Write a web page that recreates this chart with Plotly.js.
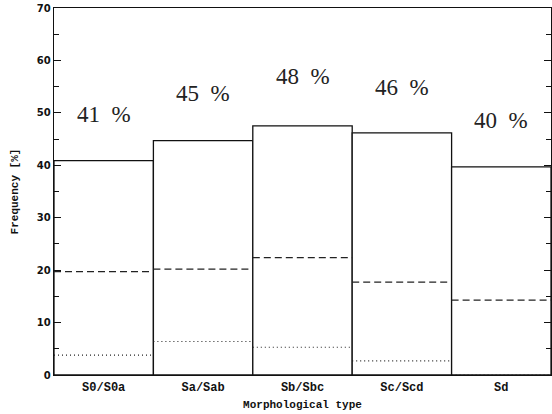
<!DOCTYPE html>
<html>
<head>
<meta charset="utf-8">
<script src="https://cdn.plot.ly/plotly-3.0.1.min.js"></script>
<style>
  html, body { margin: 0; padding: 0; background: #fff; }
  #chart { width: 552px; height: 414px; }
</style>
</head>
<body>
<div id="chart"></div>
<script>
// Morphological type bins
const categories = ['S0/S0a', 'Sa/Sab', 'Sb/Sbc', 'Sc/Scd', 'Sd'];
// Histogram heights (solid), and the two sub-samples (dashed, dotted)
const totalFreq  = [40.9, 44.7, 47.5, 46.2, 39.7];
const dashedFreq = [19.7, 20.2, 22.4, 17.7, 14.3];
const dottedFreq = [3.8, 6.4, 5.3, 2.7, 0.0];
// Percentages written above each bin, with their vertical placement
const pctLabels  = ['41 %', '45 %', '48 %', '46 %', '40 %'];
const pctLabelY  = [49.6, 53.7, 56.9, 54.9, 48.6];

const idx = categories.map((_, i) => i);

// Turn per-bin values into separate horizontal segments spanning each bin
function stepSegments(vals) {
  const xs = [], ys = [];
  vals.forEach((v, i) => {
    xs.push(i - 0.5, i + 0.5, null);
    ys.push(v, v, null);
  });
  return { x: xs, y: ys };
}

const dashSeg = stepSegments(dashedFreq);
const dotSeg = stepSegments(dottedFreq);

const traces = [
  {
    type: 'bar', x: idx, y: totalFreq, width: 1,
    marker: { color: '#ffffff', line: { color: '#111', width: 1.3 } },
    hoverinfo: 'skip'
  },
  {
    type: 'scatter', mode: 'lines', x: dashSeg.x, y: dashSeg.y,
    line: { color: '#222', width: 1.3, dash: '7px,4px' },
    connectgaps: false, hoverinfo: 'skip'
  },
  {
    type: 'scatter', mode: 'lines', x: dotSeg.x, y: dotSeg.y,
    line: { color: '#222', width: 1.1, dash: '1px,3px' },
    connectgaps: false, hoverinfo: 'skip'
  }
];

const annotations = pctLabels.map((t, i) => ({
  x: i, y: pctLabelY[i], xref: 'x', yref: 'y',
  text: t.replace(' ', '\u00a0\u00a0'), showarrow: false,
  font: { family: 'Liberation Serif, serif', size: 23, color: '#222' }
}));

const layout = {
  width: 552, height: 414,
  margin: { l: 54, r: 1, t: 8, b: 39 },
  paper_bgcolor: '#fff', plot_bgcolor: '#fff',
  showlegend: false,
  bargap: 0,
  xaxis: {
    range: [-0.5, 4.5],
    tickvals: idx, ticktext: categories,
    ticks: '', showgrid: false, zeroline: false,
    showline: true, mirror: true, linecolor: '#111', linewidth: 1.3,
    tickfont: { family: 'Liberation Mono, monospace', size: 12, color: '#111', weight: 'bold' },
    title: { text: 'Morphological type', standoff: 6,
      font: { family: 'Liberation Mono, monospace', size: 11, color: '#111', weight: 'bold' } }
  },
  yaxis: {
    range: [0, 70], dtick: 10,
    ticks: 'inside', ticklen: 7, tickwidth: 1.2, tickcolor: '#111',
    minor: { dtick: 5, ticks: 'inside', ticklen: 5, tickwidth: 1, tickcolor: '#111' },
    showgrid: false, zeroline: false,
    showline: true, mirror: 'ticks', linecolor: '#111', linewidth: 1.3,
    tickfont: { family: 'DejaVu Sans, sans-serif', size: 10, color: '#111', weight: 'bold' },
    title: { text: 'Frequency [%]', standoff: 16,
      font: { family: 'Liberation Mono, monospace', size: 11, color: '#111', weight: 'bold' } }
  },
  annotations: annotations
};

Plotly.newPlot('chart', traces, layout, { staticPlot: true, displayModeBar: false });
</script>
</body>
</html>
